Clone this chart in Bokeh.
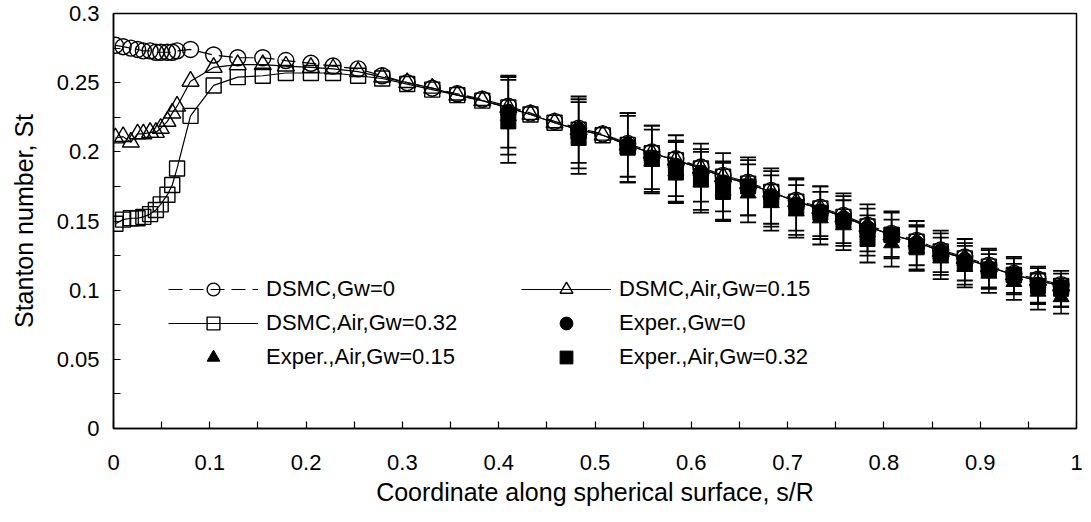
from bokeh.plotting import figure
from bokeh.models import (Range1d, FixedTicker, CustomJSTickFormatter, Legend, LegendItem,
                          ColumnDataSource, Whisker, TeeHead)
from bokeh.embed import file_html
from bokeh.resources import INLINE

# ---------------- data ----------------
s_dsmc = [0.002, 0.010, 0.018, 0.025, 0.031, 0.038, 0.044, 0.049, 0.056, 0.061, 0.066,
          0.080, 0.104, 0.129, 0.155, 0.179, 0.205, 0.228, 0.254, 0.279, 0.305, 0.331,
          0.357, 0.383, 0.410, 0.433, 0.458, 0.483, 0.508, 0.534, 0.559, 0.584, 0.610,
          0.633, 0.659, 0.683, 0.709, 0.734, 0.758, 0.783, 0.808, 0.834, 0.859, 0.884,
          0.909, 0.935, 0.960, 0.984]

st_dsmc_gw0 = [0.277, 0.276, 0.275, 0.274, 0.273, 0.273, 0.272, 0.272, 0.272, 0.272, 0.273,
               0.274, 0.270, 0.268, 0.268, 0.266, 0.264, 0.262, 0.260, 0.255, 0.250, 0.246,
               0.242, 0.238, 0.233, 0.228, 0.222, 0.217, 0.213, 0.206, 0.200, 0.195, 0.189,
               0.183, 0.178, 0.172, 0.165, 0.160, 0.154, 0.147, 0.141, 0.136, 0.129, 0.124,
               0.118, 0.112, 0.108, 0.104]

st_dsmc_gw015 = [0.210, 0.211, 0.207, 0.213, 0.213, 0.214, 0.214, 0.217, 0.222, 0.228, 0.233,
                 0.251, 0.261, 0.263, 0.263, 0.262, 0.261, 0.260, 0.258, 0.254, 0.250, 0.246,
                 0.241, 0.237, 0.232, 0.227, 0.221, 0.216, 0.212, 0.205, 0.199, 0.194, 0.188,
                 0.182, 0.177, 0.171, 0.164, 0.159, 0.153, 0.146, 0.140, 0.135, 0.128, 0.123,
                 0.117, 0.111, 0.107, 0.103]

st_dsmc_gw032 = [0.148, 0.151, 0.152, 0.152, 0.153, 0.155, 0.158, 0.162, 0.169, 0.176, 0.188,
                 0.226, 0.248, 0.254, 0.255, 0.257, 0.257, 0.257, 0.255, 0.253, 0.249, 0.245,
                 0.241, 0.237, 0.232, 0.227, 0.221, 0.216, 0.212, 0.205, 0.199, 0.194, 0.188,
                 0.182, 0.177, 0.171, 0.164, 0.159, 0.153, 0.146, 0.140, 0.135, 0.128, 0.123,
                 0.117, 0.111, 0.107, 0.103]

s_exp = [0.410, 0.483, 0.534, 0.559, 0.584, 0.610, 0.633, 0.659, 0.683, 0.709, 0.734,
         0.758, 0.783, 0.808, 0.834, 0.859, 0.884, 0.909, 0.935, 0.960, 0.984]

st_exp_gw0 = [0.229, 0.216, 0.205, 0.196, 0.190, 0.185, 0.178, 0.174, 0.168, 0.162, 0.157,
              0.152, 0.145, 0.140, 0.134, 0.128, 0.122, 0.116, 0.110, 0.104, 0.100]
err_exp_gw0 = [0.026, 0.024, 0.023, 0.023, 0.022, 0.021, 0.021, 0.020, 0.020, 0.019, 0.018,
               0.018, 0.017, 0.016, 0.016, 0.015, 0.015, 0.014, 0.013, 0.013, 0.012]

st_exp_gw015 = [0.226, 0.213, 0.202, 0.193, 0.186, 0.178, 0.172, 0.170, 0.163, 0.157, 0.152,
                0.147, 0.142, 0.134, 0.130, 0.123, 0.117, 0.112, 0.106, 0.099, 0.095]
err_exp_gw015 = [0.028, 0.025, 0.024, 0.023, 0.022, 0.022, 0.021, 0.021, 0.020, 0.019, 0.019,
                 0.018, 0.017, 0.017, 0.016, 0.015, 0.015, 0.014, 0.013, 0.013, 0.012]

st_exp_gw032 = [0.222, 0.210, 0.203, 0.195, 0.185, 0.180, 0.171, 0.175, 0.166, 0.160, 0.156,
                0.150, 0.137, 0.140, 0.131, 0.126, 0.119, 0.115, 0.111, 0.103, 0.101]
err_exp_gw032 = [0.030, 0.026, 0.025, 0.024, 0.022, 0.022, 0.021, 0.021, 0.020, 0.020, 0.019,
                 0.018, 0.017, 0.017, 0.016, 0.015, 0.015, 0.014, 0.013, 0.013, 0.013]

x_ticks = [0, 0.1, 0.2, 0.3, 0.4, 0.5, 0.6, 0.7, 0.8, 0.9, 1.0]
x_minor = [0.05, 0.15, 0.25, 0.35, 0.45, 0.55, 0.65, 0.75, 0.85, 0.95]
y_ticks = [0, 0.05, 0.1, 0.15, 0.2, 0.25, 0.3]
y_minor = [0.025, 0.075, 0.125, 0.175, 0.225, 0.275]

labels = ["DSMC,Gw=0", "DSMC,Air,Gw=0.15", "DSMC,Air,Gw=0.32",
          "Exper.,Gw=0", "Exper.,Air,Gw=0.15", "Exper.,Air,Gw=0.32"]

FONT = "Liberation Sans"

# ---------------- figure ----------------
p = figure(width=1091, height=522, output_backend="svg", toolbar_location=None,
           x_range=Range1d(0, 1), y_range=Range1d(0, 0.3),
           min_border_left=113, min_border_right=15, min_border_top=13, min_border_bottom=94)
p.background_fill_color = "white"
p.border_fill_color = "white"
p.outline_line_color = "black"
p.outline_line_width = 1.5
p.grid.visible = False

fmt = CustomJSTickFormatter(code="return String(parseFloat(tick.toFixed(3)));")

p.xaxis.ticker = FixedTicker(ticks=x_ticks, minor_ticks=x_minor)
p.yaxis.ticker = FixedTicker(ticks=y_ticks, minor_ticks=y_minor)
for ax in (p.xaxis[0], p.yaxis[0]):
    ax.formatter = fmt
    ax.axis_line_color = "black"
    ax.axis_line_width = 1.5
    ax.major_tick_in = 7
    ax.major_tick_out = 0
    ax.minor_tick_in = 7
    ax.minor_tick_out = 0
    ax.major_tick_line_color = "black"
    ax.minor_tick_line_color = "black"
    ax.major_tick_line_width = 1.2
    ax.minor_tick_line_width = 1.2
    ax.major_label_text_font = FONT
    ax.major_label_text_font_size = "22px"
    ax.major_label_text_color = "black"
    ax.axis_label_text_font = FONT
    ax.axis_label_text_font_size = "25px"
    ax.axis_label_text_font_style = "normal"
    ax.axis_label_text_color = "black"

p.xaxis.axis_label = "Coordinate along spherical surface, s/R"
p.yaxis.axis_label = "Stanton number, St"
p.xaxis.major_label_standoff = 26
p.xaxis.axis_label_standoff = 5
p.yaxis.major_label_standoff = 14
p.yaxis.axis_label_standoff = 16

# experimental error bars
for st, err in ((st_exp_gw0, err_exp_gw0), (st_exp_gw015, err_exp_gw015), (st_exp_gw032, err_exp_gw032)):
    src = ColumnDataSource(dict(x=s_exp,
                                up=[v + e for v, e in zip(st, err)],
                                lo=[v - e for v, e in zip(st, err)]))
    w = Whisker(base="x", upper="up", lower="lo", source=src, dimension="height",
                line_color="black", line_width=1.5,
                upper_head=TeeHead(size=16, line_color="black", line_width=1.8),
                lower_head=TeeHead(size=16, line_color="black", line_width=1.8))
    p.add_layout(w)

# experimental markers
e0 = p.scatter(s_exp, st_exp_gw0, marker="circle", size=15, fill_color="black", line_color="black")
e1 = p.scatter(s_exp, st_exp_gw015, marker="triangle", size=16, fill_color="black", line_color="black")
e2 = p.scatter(s_exp, st_exp_gw032, marker="square", size=15, fill_color="black", line_color="black")

# DSMC lines and open markers
l0 = p.line(s_dsmc, st_dsmc_gw0, line_color="black", line_width=1.2, line_dash="14 7")
l1 = p.line(s_dsmc, st_dsmc_gw015, line_color="black", line_width=1.2)
l2 = p.line(s_dsmc, st_dsmc_gw032, line_color="black", line_width=1.2)
m0 = p.scatter(s_dsmc, st_dsmc_gw0, marker="circle", size=16, fill_alpha=0, line_color="black", line_width=1.4)
m1 = p.scatter(s_dsmc, st_dsmc_gw015, marker="triangle", size=17, fill_alpha=0, line_color="black", line_width=1.4)
m2 = p.scatter(s_dsmc, st_dsmc_gw032, marker="square", size=15, fill_alpha=0, line_color="black", line_width=1.4)

def make_legend(items, loc):
    lg = Legend(items=items, location=loc, orientation="vertical",
                glyph_width=90, glyph_height=32, spacing=2, padding=0, margin=0,
                label_standoff=8, label_text_font=FONT, label_text_font_size="22px",
                label_text_color="black", border_line_alpha=0, background_fill_alpha=0)
    p.add_layout(lg)

make_legend([LegendItem(label=labels[0], renderers=[l0, m0]),
             LegendItem(label=labels[2], renderers=[l2, m2]),
             LegendItem(label=labels[4], renderers=[e1])], (55, 55))
make_legend([LegendItem(label=labels[1], renderers=[l1, m1]),
             LegendItem(label=labels[3], renderers=[e0]),
             LegendItem(label=labels[5], renderers=[e2])], (408, 55))

open("out.html", "w").write(file_html(p, INLINE))
